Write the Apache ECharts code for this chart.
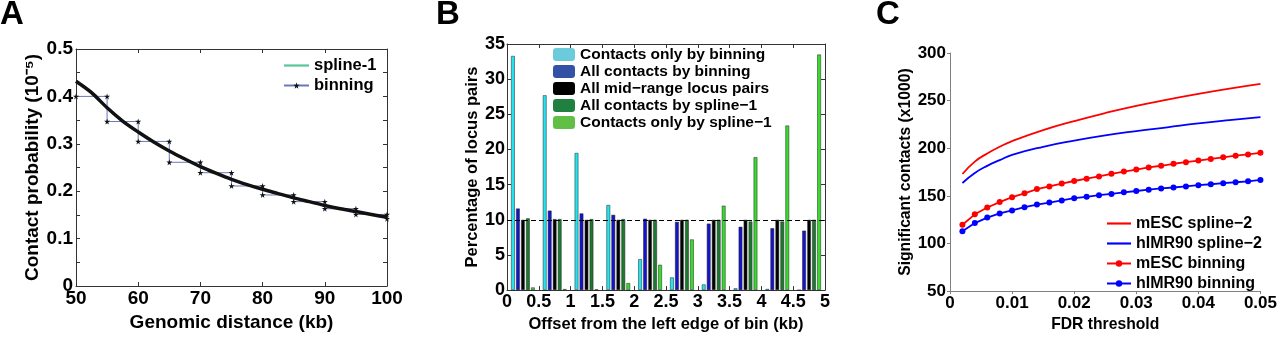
<!DOCTYPE html>
<html>
<head>
<meta charset="utf-8">
<script src="https://cdn.jsdelivr.net/npm/echarts@6/dist/echarts.min.js"></script>
<style>
html, body { margin: 0; padding: 0; background: #fff; }
#main { width: 1280px; height: 338px; }
</style>
</head>
<body>
<div id="main"></div>
<script>
// panel A - contact probability vs distance
const splineX = [50, 52.5, 55, 57.5, 60, 62.5, 65, 67.5, 70, 72.5, 75, 77.5, 80, 82.5, 85, 87.5, 90, 92.5, 95, 97.5, 100];
const splineY = [0.432, 0.408, 0.376, 0.348, 0.325, 0.304, 0.285, 0.268, 0.252, 0.238, 0.225, 0.214, 0.204, 0.195, 0.186, 0.178, 0.170, 0.163, 0.157, 0.151, 0.145];
const binStarts = [50, 55, 60, 65, 70, 75, 80, 85, 90, 95, 100];
const binValues = [0.400, 0.347, 0.305, 0.261, 0.239, 0.211, 0.192, 0.178, 0.163, 0.151, 0.142];

// panel B - percentage of locus pairs per offset bin
const offsetBins = ['0-0.5', '0.5-1', '1-1.5', '1.5-2', '2-2.5', '2.5-3', '3-3.5', '3.5-4', '4-4.5', '4.5-5'];
const onlyBinning = [33.3, 27.7, 19.5, 12.1, 4.4, 1.8, 0.8, 0.25, 0.15, 0.0];
const allBinning = [11.6, 11.3, 10.9, 10.7, 10.15, 9.7, 9.45, 9.0, 8.8, 8.45];
const allMidRange = [10.0, 10.1, 10.0, 10.0, 10.0, 10.0, 10.0, 10.0, 10.0, 10.0];
const allSpline = [10.2, 10.1, 10.1, 10.1, 10.0, 10.0, 10.0, 9.75, 9.75, 10.0];
const onlySpline = [0.37, 0.14, 0.1, 1.0, 3.6, 7.2, 12.0, 18.9, 23.4, 33.5];

// panel C - significant contacts vs FDR
const fdrSpline = [0.002, 0.004, 0.006, 0.008, 0.01, 0.015, 0.02, 0.025, 0.03, 0.035, 0.04, 0.045, 0.05];
const mescSpline = [173, 186, 194.5, 201.5, 207.5, 219, 228.5, 237, 244.5, 251, 257, 262.5, 267.5];
const imrSpline = [163.5, 174, 181.5, 187.5, 193, 201.5, 208, 213.5, 218, 222, 226, 229.5, 232.7];
const fdrBinning = [0.002, 0.004, 0.006, 0.008, 0.010, 0.012, 0.014, 0.016, 0.018, 0.020, 0.022, 0.024, 0.026,
  0.028, 0.030, 0.032, 0.034, 0.036, 0.038, 0.040, 0.042, 0.044, 0.046, 0.048, 0.050];
const mescBinning = [119.7, 130.6, 137.8, 143.5, 148.6, 152.7, 157.1, 159.9, 162.9, 165.6, 168, 170.4, 173.1,
  175.5, 177.6, 179.9, 181.6, 183.7, 185.4, 187.1, 188.8, 190.5, 192.2, 193.5, 195.2];
const imrBinning = [112.9, 121.4, 127.2, 131.6, 134.7, 138.1, 140.8, 142.9, 145.2, 147.6, 149, 150.7, 152,
  153.7, 155.1, 156.5, 157.8, 158.8, 159.9, 161.2, 162.2, 163.3, 164.3, 165.3, 166.7];

const FONT = 'Liberation Sans, Arial, sans-serif';
const STAR = 'path://M50,0 L61,35 L98,35 L68,57 L79,91 L50,70 L21,91 L32,57 L2,35 L39,35 Z';
const THIN = 'path://M0,0 L100,0 L100,9 L0,9 Z';

// staircase for the binned curve
const binStair = [];
binStarts.forEach((x, i) => {
    if (i > 0) binStair.push([x, binValues[i - 1]]);
    binStair.push([x, binValues[i]]);
});
const zip = (xs, ys) => xs.map((x, i) => [x, ys[i]]);

function boxAxis(gridIndex, pos, extra) {
    return Object.assign({
        gridIndex: gridIndex,
        position: pos,
        type: 'value',
        axisLine: { show: true, onZero: false, lineStyle: { color: '#333', width: 1 } },
        axisTick: { show: true, inside: true, length: 4, lineStyle: { color: '#333' } },
        axisLabel: { show: false },
        splitLine: { show: false }
    }, extra);
}
function txt(size) {
    return { color: '#000', fontFamily: FONT, fontWeight: 'bold', fontSize: size };
}

const myChart = echarts.init(document.getElementById('main'));
const option = {
    animation: false,
    textStyle: { fontFamily: FONT },
    graphic: [
        { type: 'text', left: 0, top: -2, style: { text: 'A', font: 'bold 33px ' + FONT, fill: '#000' } },
        { type: 'text', left: 436, top: -2, style: { text: 'B', font: 'bold 33px ' + FONT, fill: '#000' } },
        { type: 'text', left: 876, top: -2, style: { text: 'C', font: 'bold 33px ' + FONT, fill: '#000' } }
    ],
    grid: [
        { left: 76, top: 49, width: 311, height: 237 },
        { left: 507, top: 44, width: 318, height: 253 },
        { left: 950, top: 53, width: 314, height: 245 }
    ],
    legend: [
        {
            left: 283, top: 57, padding: 0, orient: 'vertical', itemWidth: 25, itemHeight: 8, itemGap: 3,
            textStyle: Object.assign(txt(16.5), { lineHeight: 17 }),
            data: [
                { name: 'spline-1', icon: THIN, itemStyle: { color: '#5cc79a' } },
                { name: 'binning' }
            ]
        },
        {
            left: 553, top: 46, padding: 0, orient: 'vertical', itemWidth: 22, itemHeight: 13, itemGap: 0,
            textStyle: Object.assign(txt(15.5), { lineHeight: 17 }),
            data: [
                { name: 'Contacts only by binning', itemStyle: { color: '#6ccbdb', borderWidth: 0 } },
                { name: 'All contacts by binning', itemStyle: { color: '#3352a6', borderWidth: 0 } },
                { name: 'All mid−range locus pairs', itemStyle: { color: '#000', borderWidth: 0 } },
                { name: 'All contacts by spline−1', itemStyle: { color: '#1f8040', borderWidth: 0 } },
                { name: 'Contacts only by spline−1', itemStyle: { color: '#62bf45', borderWidth: 0 } }
            ]
        },
        {
            left: 1106, top: 215, padding: 0, orient: 'vertical', itemWidth: 24, itemHeight: 8, itemGap: 3,
            textStyle: Object.assign(txt(16), { lineHeight: 17 }),
            data: [
                { name: 'mESC spline−2', icon: THIN },
                { name: 'hIMR90 spline−2', icon: THIN },
                { name: 'mESC binning' },
                { name: 'hIMR90 binning' }
            ]
        }
    ],
    xAxis: [
        // A
        boxAxis(0, 'bottom', {
            min: 50, max: 100, interval: 10,
            axisLabel: Object.assign({ show: true, margin: 3 }, txt(19)),
            name: 'Genomic distance (kb)', nameLocation: 'middle', nameGap: 24, nameTextStyle: txt(19)
        }),
        boxAxis(0, 'top', { min: 50, max: 100, interval: 10 }),
        // B
        { gridIndex: 1, type: 'category', data: offsetBins, show: false },
        boxAxis(1, 'bottom', {
            min: 0, max: 5, interval: 0.5,
            axisLabel: Object.assign({ show: true, margin: 3 }, txt(18)),
            name: 'Offset from the left edge of bin (kb)', nameLocation: 'middle', nameGap: 21, nameTextStyle: txt(16.5)
        }),
        boxAxis(1, 'top', { min: 0, max: 5, interval: 0.5 }),
        // C
        boxAxis(2, 'bottom', {
            min: 0, max: 0.05, interval: 0.01,
            axisLine: { show: true, onZero: false, lineStyle: { color: '#808080' } },
            axisTick: { show: true, inside: false, length: 3, lineStyle: { color: '#808080' } },
            axisLabel: Object.assign({ show: true, margin: 4 }, txt(17)),
            name: 'FDR threshold', nameLocation: 'middle', nameGap: 18, nameTextStyle: txt(15.7)
        })
    ],
    yAxis: [
        // A
        boxAxis(0, 'left', {
            min: 0, max: 0.5, interval: 0.1,
            minorTick: { show: true, splitNumber: 2, length: 4, lineStyle: { color: '#333' } },
            axisLabel: Object.assign({ show: true, margin: 3 }, txt(19)),
            name: 'Contact probability (10⁻⁵)', nameLocation: 'middle', nameGap: 33, nameTextStyle: txt(19)
        }),
        boxAxis(0, 'right', {
            min: 0, max: 0.5, interval: 0.1,
            minorTick: { show: true, splitNumber: 2, length: 4, lineStyle: { color: '#333' } }
        }),
        // B
        boxAxis(1, 'left', {
            min: 0, max: 35, interval: 5,
            axisLabel: Object.assign({ show: true, margin: 2 }, txt(18)),
            name: 'Percentage of locus pairs', nameLocation: 'middle', nameGap: 25, nameTextStyle: txt(16.5)
        }),
        boxAxis(1, 'right', { min: 0, max: 35, interval: 5 }),
        // C
        boxAxis(2, 'left', {
            min: 50, max: 300, interval: 50,
            axisLine: { show: true, onZero: false, lineStyle: { color: '#808080' } },
            axisTick: { show: true, inside: false, length: 3, lineStyle: { color: '#808080' } },
            axisLabel: Object.assign({ show: true, margin: 4 }, txt(17)),
            name: 'Significant contacts (x1000)', nameLocation: 'middle', nameGap: 33, nameTextStyle: txt(15.7)
        })
    ],
    series: [
        // A
        {
            name: 'binning', type: 'line', xAxisIndex: 0, yAxisIndex: 0,
            data: binStair, symbol: STAR, symbolSize: 6,
            itemStyle: { color: '#111' },
            lineStyle: { color: '#6a78b8', width: 1 }
        },
        {
            name: 'spline-1', type: 'line', xAxisIndex: 0, yAxisIndex: 0,
            data: zip(splineX, splineY), smooth: 0.3, symbol: 'none',
            itemStyle: { color: '#5cc79a' },
            lineStyle: { color: '#111', width: 3.5 }
        },
        // B
        {
            name: 'Contacts only by binning', type: 'bar', xAxisIndex: 2, yAxisIndex: 2,
            data: onlyBinning, barWidth: 3.7, barGap: '35%',
            itemStyle: { color: '#22e3f0', borderColor: '#222', borderWidth: 0.5 }
        },
        {
            name: 'All contacts by binning', type: 'bar', xAxisIndex: 2, yAxisIndex: 2,
            data: allBinning, barWidth: 3.7, barGap: '35%',
            itemStyle: { color: '#1414cc', borderColor: '#222', borderWidth: 0.5 }
        },
        {
            name: 'All mid−range locus pairs', type: 'bar', xAxisIndex: 2, yAxisIndex: 2,
            data: allMidRange, barWidth: 3.7, barGap: '35%',
            itemStyle: { color: '#000', borderColor: '#444', borderWidth: 0.5 },
            markLine: {
                silent: true, symbol: 'none', label: { show: false },
                lineStyle: { color: '#000', type: [5, 3], width: 1.2 },
                data: [{ yAxis: 10 }]
            }
        },
        {
            name: 'All contacts by spline−1', type: 'bar', xAxisIndex: 2, yAxisIndex: 2,
            data: allSpline, barWidth: 3.7, barGap: '35%',
            itemStyle: { color: '#1b7a30', borderColor: '#222', borderWidth: 0.5 }
        },
        {
            name: 'Contacts only by spline−1', type: 'bar', xAxisIndex: 2, yAxisIndex: 2,
            data: onlySpline, barWidth: 3.7, barGap: '35%',
            itemStyle: { color: '#36dc2c', borderColor: '#222', borderWidth: 0.5 }
        },
        // C
        {
            name: 'mESC spline−2', type: 'line', xAxisIndex: 5, yAxisIndex: 4,
            data: zip(fdrSpline, mescSpline), smooth: true, symbol: 'none',
            itemStyle: { color: '#ff0000' }, lineStyle: { color: '#ff0000', width: 1.8 }
        },
        {
            name: 'hIMR90 spline−2', type: 'line', xAxisIndex: 5, yAxisIndex: 4,
            data: zip(fdrSpline, imrSpline), smooth: true, symbol: 'none',
            itemStyle: { color: '#0000ff' }, lineStyle: { color: '#0000ff', width: 1.8 }
        },
        {
            name: 'mESC binning', type: 'line', xAxisIndex: 5, yAxisIndex: 4,
            data: zip(fdrBinning, mescBinning), symbol: 'circle', symbolSize: 6,
            itemStyle: { color: '#ff0000' }, lineStyle: { color: '#ff0000', width: 1.8 }
        },
        {
            name: 'hIMR90 binning', type: 'line', xAxisIndex: 5, yAxisIndex: 4,
            data: zip(fdrBinning, imrBinning), symbol: 'circle', symbolSize: 6,
            itemStyle: { color: '#0000ff' }, lineStyle: { color: '#0000ff', width: 1.8 }
        }
    ]
};
myChart.setOption(option);
</script>
</body>
</html>
